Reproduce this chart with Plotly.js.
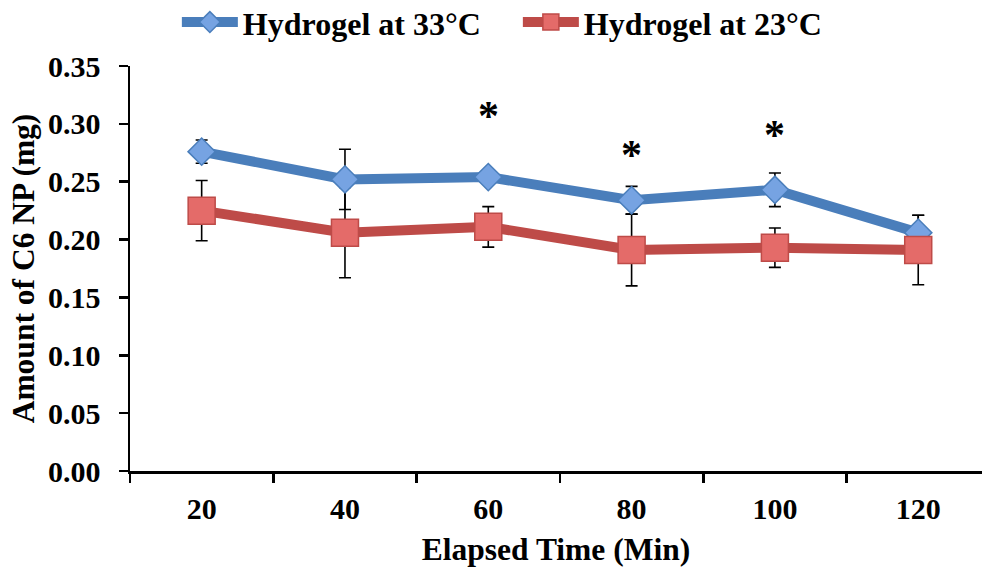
<!DOCTYPE html>
<html>
<head>
<meta charset="utf-8">
<script src="https://cdn.plot.ly/plotly-3.0.1.min.js"></script>
<style>
  html, body { margin: 0; padding: 0; background: #ffffff; }
  #chart { width: 982px; height: 572px; }
</style>
</head>
<body>
<div id="chart"></div>
<script>
// Elapsed time points (minutes), shown as categories
const elapsedMin = ['20', '40', '60', '80', '100', '120'];

// Released C6 NP amount (mg), hydrogel at 33 °C: mean and SD
const hydrogel33 = [0.276, 0.252, 0.254, 0.234, 0.243, 0.206];
const hydrogel33Sd = [0.010, 0.026, 0.004, 0.012, 0.0145, 0.015];

// Released C6 NP amount (mg), hydrogel at 23 °C: mean and SD
const hydrogel23 = [0.225, 0.206, 0.211, 0.191, 0.193, 0.191];
const hydrogel23Sd = [0.026, 0.039, 0.0175, 0.031, 0.017, 0.030];

// Time points with a significant difference between the two temperatures
const significantAt = ['60', '80', '100'];

const FONT = 'Liberation Serif, Times New Roman, serif';
const BLUE_LINE = '#4a7ebb';
const BLUE_FILL = '#76a3e2';
const RED_LINE = '#be4b48';
const RED_FILL = '#e46b69';

function boldFont(size) {
  return { family: FONT, size: size, color: '#000000', weight: 'bold' };
}

function errorBars(sd) {
  return {
    type: 'data', array: sd, visible: true,
    color: '#000000', thickness: 1.6, width: 6
  };
}

// Error bars sit underneath every line and marker
const errTraces = [
  { x: elapsedMin, y: hydrogel33, error_y: errorBars(hydrogel33Sd) },
  { x: elapsedMin, y: hydrogel23, error_y: errorBars(hydrogel23Sd) }
].map(t => Object.assign(t, {
  type: 'scatter', mode: 'none', showlegend: false, hoverinfo: 'skip'
}));

const seriesTraces = [
  {
    x: elapsedMin, y: hydrogel33, name: 'Hydrogel at 33°C',
    type: 'scatter', mode: 'lines+markers',
    line: { color: BLUE_LINE, width: 10 },
    marker: { symbol: 'diamond', size: 21, color: BLUE_FILL,
              line: { color: BLUE_LINE, width: 1.5 } }
  },
  {
    x: elapsedMin, y: hydrogel23, name: 'Hydrogel at 23°C',
    type: 'scatter', mode: 'lines+markers',
    line: { color: RED_LINE, width: 10 },
    marker: { symbol: 'square', size: 27, color: RED_FILL,
              line: { color: RED_LINE, width: 1.5 } }
  }
];

// Asterisk heights above each significant time point (mg)
const starHeight = { '60': 0.3066, '80': 0.273, '100': 0.290 };
const stars = significantAt.map(t => ({
  x: elapsedMin.indexOf(t), y: starHeight[t], xref: 'x', yref: 'y',
  text: '*', showarrow: false,
  font: boldFont(42)
}));

const axisCommon = {
  showline: true, linecolor: '#000000', linewidth: 2.5,
  ticks: 'outside', ticklen: 9, tickwidth: 2.5, tickcolor: '#000000',
  showgrid: false, zeroline: false,
  tickfont: boldFont(30)
};

const layout = {
  width: 982, height: 572,
  margin: { l: 130, r: 0, t: 66, b: 101, pad: 0, autoexpand: false },
  paper_bgcolor: '#ffffff', plot_bgcolor: '#ffffff',
  font: boldFont(31),
  showlegend: true,
  legend: {
    orientation: 'h', x: 0.055, xanchor: 'left', y: 1.108, yanchor: 'middle',
    font: boldFont(32),
    itemwidth: 56, entrywidth: 270, entrywidthmode: 'pixels',
    tracegroupgap: 0, bgcolor: 'rgba(0,0,0,0)'
  },
  xaxis: Object.assign({}, axisCommon, {
    type: 'category', range: [-0.5, 5.445], tickson: 'boundaries',
    ticklabelstandoff: 9,
    title: { text: 'Elapsed Time (Min)', standoff: 15, font: boldFont(31.5) }
  }),
  yaxis: Object.assign({}, axisCommon, {
    range: [0, 0.35], dtick: 0.05, tickformat: '.2f',
    ticklabelstandoff: 12,
    title: { text: 'Amount of C6 NP (mg)', standoff: 4, font: boldFont(31.5) }
  }),
  annotations: stars
};

Plotly.newPlot('chart', errTraces.concat(seriesTraces), layout,
  { staticPlot: true, displayModeBar: false });
</script>
</body>
</html>
